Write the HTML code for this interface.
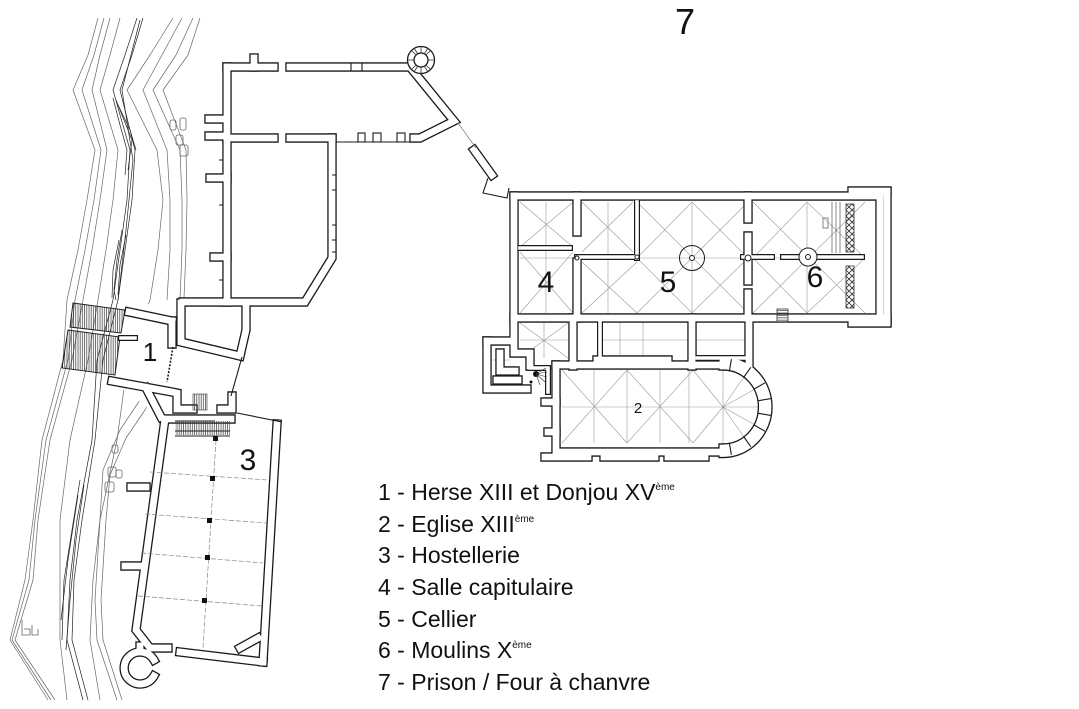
<!DOCTYPE html>
<html><head><meta charset="utf-8">
<style>
html,body{margin:0;padding:0;background:#fff;}
svg{display:block;}
.lg{font-family:"Liberation Sans",sans-serif;font-size:23px;fill:#111;}
.num{font-family:"Liberation Sans",sans-serif;fill:#111;text-anchor:middle;}
</style></head>
<body>
<svg width="1079" height="709" viewBox="0 0 1079 709" xmlns="http://www.w3.org/2000/svg">
<defs>
<pattern id="hv" width="2.2" height="10" patternUnits="userSpaceOnUse"><line x1="1" y1="0" x2="1" y2="10" stroke="#333" stroke-width="0.7"/></pattern>
<pattern id="hh" width="10" height="2.4" patternUnits="userSpaceOnUse"><line x1="0" y1="1" x2="10" y2="1" stroke="#333" stroke-width="0.7"/></pattern>
<pattern id="hx" width="6" height="6" patternUnits="userSpaceOnUse"><path d="M0,0 L6,6 M6,0 L0,6" stroke="#333" stroke-width="0.8"/></pattern>
<g id="W" fill="none">
<!-- north wing -->
<path d="M227,67 H274"/>
<path d="M290,67 H410 L454,121 L420,138 H414"/>
<path d="M227,67 V302"/>
<path d="M227,138 H274"/>
<path d="M290,138 H332"/>
<path d="M332,138 V258 L305,302 H183"/>
<path d="M209,119 H224"/>
<path d="M209,136 H224"/>
<path d="M210,178 H227"/>
<path d="M214,257 H227"/>
<path d="M254,58 V67"/>
<path d="M474,150 L492,175"/>
<!-- gate house 1 -->
<path d="M129,312 L172,321"/>
<path d="M181,303 V342 L240,356"/>
<path d="M172,321 V344"/>
<path d="M246,303 V330 L240,356"/>
<path d="M112,381 L172,392 L177,393 V409 H193"/>
<path d="M146,388 L161,417"/>
<path d="M221,409 H232 V396"/>
<!-- hostellerie 3 -->
<path d="M165,419 H231"/>
<path d="M165,419 L136,630 L150,648 H168"/>
<path d="M180,652 L263,662"/>
<path d="M277,424 L263,662"/>
<path d="M131,487 H146"/>
<path d="M125,566 H139"/>
<path d="M240,648 L258,638"/>
<path d="M154,660 A16,16 0 1 0 154,676"/>
<path d="M140,652 V646"/>
<!-- cellier building -->
<path d="M514,196 H880"/>
<path d="M852,191 H887"/>
<path d="M880,192 V322"/>
<path d="M887,192 V322"/>
<path d="M514,318 H887"/>
<path d="M852,323 H887"/>
<path d="M514,196 V353 H530 V366"/>
<path d="M577,196 V232"/>
<path d="M577,262 V318"/>
<path d="M748,196 V219"/>
<path d="M748,236 V281"/>
<path d="M748,293 V318"/>
<path d="M573,318 V366"/>
<path d="M692,318 V366"/>
<path d="M749,318 V366"/>
<!-- annex -->
<path d="M487,341 H511"/>
<path d="M487,341 V389 H527"/>
<path d="M500,353 V371 H515"/>
<path d="M497,380 H518"/>
<!-- church -->
<path d="M556,365 H723"/>
<path d="M597,360 H668"/>
<path d="M556,365 V452 H723"/>
<path d="M545,457 H588"/>
<path d="M604,457 H655"/>
<path d="M668,457 H705"/>
<path d="M545,402 H556"/>
<path d="M548,432 H556"/>
<path d="M723,366 A39.5,41 0 0 1 723,448"/>
<path d="M723,360.5 A45,46.5 0 0 1 723,453.5"/>
</g>
<g id="T" fill="none">
<path d="M520,248 H570"/>
<path d="M577,257 H637"/>
<path d="M637,202 V258"/>
<path d="M743,257 H772"/>
<path d="M783,257 H862"/>
<path d="M600,322 V356"/>
<path d="M697,358 H745"/>
<path d="M530,368 H548 V392"/>
<path d="M121,338 H135"/>
</g>
</defs>
<rect width="1079" height="709" fill="#fff"/>

<!-- river -->
<g fill="none" stroke="#666" stroke-width="0.7" stroke-linejoin="round">
<polyline points="98,18 88,55 73,90 95,150 87,200 78,250 67,300 63,360 42,440 33,520 25,580 10,640 48,700"/>
<polyline points="104,18 94,55 82,90 101,150 94,200 85,250 75,300 68,360 46,440 35,520 29,580 12,640 51,700"/>
<polyline points="110,18 100,55 92,90 107,150 100,200 92,250 83,300 72,360 50,440 38,520 33,580 15,640 55,700"/>
<polyline points="120,18 110,55 100,90 118,150 113,200 106,250 98,300 88,360 70,440 60,520 60,580 60,640 67,700"/>
<polyline points="173,18 150,55 127,90 157,150 163,200 158,250 150,300 128,360 117,440 100,520 93,580 90,640 100,700"/>
<polyline points="182,18 162,55 143,90 167,150 170,200 170,250 167,300"/>
<polyline points="193,18 176,55 153,90 180,150 182,200 182,250 180,300"/>
<polyline points="200,18 188,55 163,90 186,150 187,200 186,250 184,298"/>
<polyline points="150,385 140,400 120,430 103,470 100,520 95,600 97,640 117,700"/>
<polyline points="155,392 145,410 126,438 110,475 106,520 101,600 103,640 122,700"/>
</g>
<g fill="none" stroke="#222" stroke-width="0.7" stroke-linejoin="round">
<polyline points="137,18 125,55 113,90 130,150 127,200 120,250 113,300 97,360 92,440 77,520 70,580 67,640 83,700"/>
<polyline points="143,18 132,55 120,90 135,150 132,200 125,250 118,300 103,360 95,440 82,520 74,580 72,640 88,700"/>
<polyline points="140,20 122,90 133,160 126,230 118,300"/>
<polyline points="116,100 124,120 132,140 128,170"/>
<polyline points="113,98 120,125 127,150 125,175"/>
<polyline points="118,105 130,130 136,150"/>
<polyline points="122,230 117,260 114,290 116,300"/>
<polyline points="126,235 120,265 118,295"/>
<polyline points="119,240 113,270 112,298"/>
<polyline points="80,480 72,530 64,580 62,640"/>
<polyline points="84,485 76,540 70,600 66,650"/>
<polyline points="78,495 68,560 61,620"/>
</g>
<g fill="none" stroke="#666" stroke-width="0.8">
<rect x="170" y="120" width="6" height="10" rx="2"/>
<rect x="180" y="118" width="6" height="12" rx="2"/>
<rect x="176" y="135" width="7" height="10" rx="2"/>
<rect x="180" y="145" width="8" height="11" rx="2"/>
<rect x="112" y="445" width="6" height="8" rx="2"/>
<rect x="108" y="467" width="8" height="10" rx="2"/>
<rect x="116" y="470" width="6" height="8" rx="2"/>
<rect x="105" y="482" width="9" height="10" rx="2"/>
<path d="M22,620 v15 h8 v-6 h-6 M32,625 v10 h6 v-6"/>
</g>

<!-- building footprints (white) -->
<polygon points="125,305 250,300 240,360 282,420 265,665 120,645 163,419 112,381" fill="#fff"/>
<polygon points="223,63 412,63 458,123 418,142 336,142 336,258 305,305 223,305" fill="#fff"/>

<!-- bridge -->
<polygon points="73,303 125,310 121,333 70,327" fill="url(#hv)" stroke="#222" stroke-width="1"/>
<polygon points="68,330 120,337 115,375 62,368" fill="url(#hv)" stroke="#222" stroke-width="1"/>

<!-- vault lines -->
<g fill="none" stroke="#9a9a9a" stroke-width="0.6">
<path d="M520,202 L573,247 M573,202 L520,247"/>
<path d="M520,252 L573,313 M573,252 L520,313"/>
<path d="M582,202 L633,252 M633,202 L582,252"/>
<path d="M582,262 L637,313 M637,262 L582,313"/>
<path d="M637,202 L748,313 M748,202 L637,313 M637,258 L692,202 L748,258 L692,313 Z"/>
<path d="M753,202 L865,313 M865,202 L753,313 M753,258 L807,202 L865,258 L807,313 Z"/>
<path d="M520,258 H865 M692,202 V313 M807,202 V313 M546,202 V313 M608,202 V313"/>
<path d="M520,323 L568,358 M568,323 L520,358 M544,323 V358 M520,340 H568"/>
<path d="M600,340 H748 M643,322 V356 M620,322 V356"/>
<path d="M562,370 L627,443 M627,370 L562,443 M627,370 L693,443 M693,370 L627,443"/>
<path d="M562,407 H723 M594,370 V443 M627,370 V443 M660,370 V443 M689,370 V443"/>
<path d="M723,407 L693,370 M723,407 L693,443 M723,407 L723,370 M723,407 L723,444 M723,407 L744,377 M723,407 L744,437 M723,407 L755,389 M723,407 L755,425 M723,407 L760,407"/>
<path d="M488,360 H510"/>
</g>

<!-- walls double-line -->
<use href="#W" stroke="#1a1a1a" stroke-width="9.4" stroke-linecap="square" stroke-linejoin="miter"/>
<use href="#T" stroke="#1a1a1a" stroke-width="6" stroke-linecap="square" stroke-linejoin="miter"/>
<use href="#W" stroke="#fff" stroke-width="6.8" stroke-linecap="square" stroke-linejoin="miter"/>
<use href="#T" stroke="#fff" stroke-width="3.6" stroke-linecap="square" stroke-linejoin="miter"/>

<!-- thin single lines -->
<g fill="none" stroke="#1a1a1a" stroke-width="1.1">
<path d="M351,63 V71 M362,63 V71"/>
<path d="M336,142 H417"/>
<rect x="358" y="133" width="7" height="9" fill="#fff"/>
<rect x="373" y="133" width="8" height="9" fill="#fff"/>
<rect x="397" y="133" width="8" height="9" fill="#fff"/>
<path d="M488,178 L483,193 L507,198 L509,188"/>
<path d="M242,357 L231,396"/>
<path d="M237,413 L282,422"/>
<path d="M173,347 L167,382" stroke-dasharray="2,1.5" stroke-width="1.6"/>
<path d="M729.3,371.5 L731.4,359.2 M743.6,377.5 L750.8,367.3 M754.2,389 L765,382.8 M758.5,400.7 L770.8,398.6 M758.5,413.3 L770.8,415.4 M754.2,425 L765,431.3 M743.6,436.5 L750.8,446.7 M729.3,442.5 L731.4,454.8"/>
<path d="M332,175 h4 M332,190 h4 M332,225 h4 M332,240 h4 M332,252 h4"/>
<path d="M223,160 h-4 M223,205 h-4 M223,280 h-4"/>
</g>
<g fill="none" stroke="#888" stroke-width="0.8">
<path d="M458,123 L476,148"/>
</g>

<!-- round tower top -->
<circle cx="421" cy="60" r="13.5" fill="#fff" stroke="#1a1a1a" stroke-width="1.3"/>
<circle cx="421" cy="60" r="7" fill="#fff" stroke="#1a1a1a" stroke-width="1.3"/>
<g stroke="#333" stroke-width="0.8">
<path d="M421,46.5 V53 M421,67 V73.5 M407.5,60 H414 M428,60 H434.5 M411.5,50.5 L416,55 M426,65 L430.5,69.5 M430.5,50.5 L426,55 M416,65 L411.5,69.5 M414,48 L417.5,53.5 M428,48 L424.5,53.5 M414,72 L417.5,66.5 M428,72 L424.5,66.5"/>
</g>

<!-- columns / piers -->
<circle cx="692" cy="258" r="12.5" fill="none" stroke="#1a1a1a" stroke-width="1"/>
<circle cx="692" cy="258" r="2.5" fill="#fff" stroke="#1a1a1a" stroke-width="1"/>
<circle cx="748" cy="258" r="3" fill="#fff" stroke="#1a1a1a" stroke-width="1"/>
<circle cx="808" cy="257" r="9" fill="#fff" stroke="#1a1a1a" stroke-width="1"/>
<circle cx="808" cy="257" r="2.5" fill="#fff" stroke="#1a1a1a" stroke-width="1"/>
<circle cx="577" cy="258" r="2" fill="#fff" stroke="#1a1a1a" stroke-width="1"/>
<circle cx="637" cy="257" r="2" fill="#fff" stroke="#1a1a1a" stroke-width="1"/>

<!-- mill -->
<rect x="846" y="204" width="8" height="48" fill="url(#hx)" stroke="#333" stroke-width="0.8"/>
<rect x="846" y="266" width="8" height="42" fill="url(#hx)" stroke="#333" stroke-width="0.8"/>
<path d="M832,202 V253 M836,202 V253 M840,202 V253" stroke="#555" stroke-width="0.7"/>
<rect x="823" y="218" width="5" height="10" fill="none" stroke="#555" stroke-width="0.7"/>
<rect x="777" y="309" width="11" height="13" fill="url(#hh)" stroke="#333" stroke-width="0.8"/>

<!-- spiral stair -->
<circle cx="536" cy="374" r="3" fill="#111"/>
<path d="M536,374 l10,-6 M536,374 l11,-2 M536,374 l11,3 M536,374 l9,8 M536,374 l4,11" stroke="#333" stroke-width="0.6"/>
<circle cx="531" cy="382" r="1.5" fill="#111"/>

<!-- stairs hostellerie -->
<rect x="193" y="394" width="14" height="16" fill="url(#hv)" stroke="#333" stroke-width="0.6"/>
<rect x="175" y="421" width="55" height="14" fill="url(#hv)"/>
<path d="M175,431 H230 M175,436 H230 M175,421 H215" stroke="#222" stroke-width="0.9"/>

<!-- hostellerie grid -->
<g fill="none" stroke="#888" stroke-width="0.7" stroke-dasharray="5,2">
<path d="M150,472 L268,480"/>
<path d="M145,514 L266,523"/>
<path d="M141,553 L263,563"/>
<path d="M138,596 L262,606"/>
<path d="M216,440 L203,648"/>
</g>
<g fill="#111">
<rect x="213" y="436" width="5" height="5"/>
<rect x="210" y="476" width="5" height="5"/>
<rect x="207" y="518" width="5" height="5"/>
<rect x="205" y="555" width="5" height="5"/>
<rect x="202" y="598" width="5" height="5"/>
</g>

<!-- labels -->
<text class="num" x="685" y="34" font-size="36">7</text>
<text class="num" x="150" y="361" font-size="26">1</text>
<text class="num" x="248" y="470" font-size="30">3</text>
<text class="num" x="546" y="292" font-size="30">4</text>
<text class="num" x="668" y="292" font-size="30">5</text>
<text class="num" x="815" y="287" font-size="30">6</text>
<text class="num" x="638" y="413" font-size="15">2</text>

<text class="lg" x="378" y="500">1 - Herse XIII et Donjou XV<tspan font-size="10" dy="-10">ème</tspan></text>
<text class="lg" x="378" y="532">2 - Eglise XIII<tspan font-size="10" dy="-10">ème</tspan></text>
<text class="lg" x="378" y="563">3 - Hostellerie</text>
<text class="lg" x="378" y="595">4 - Salle capitulaire</text>
<text class="lg" x="378" y="627">5 - Cellier</text>
<text class="lg" x="378" y="658">6 - Moulins X<tspan font-size="10" dy="-10">ème</tspan></text>
<text class="lg" x="378" y="690">7 - Prison / Four à chanvre</text>
</svg>
</body></html>
